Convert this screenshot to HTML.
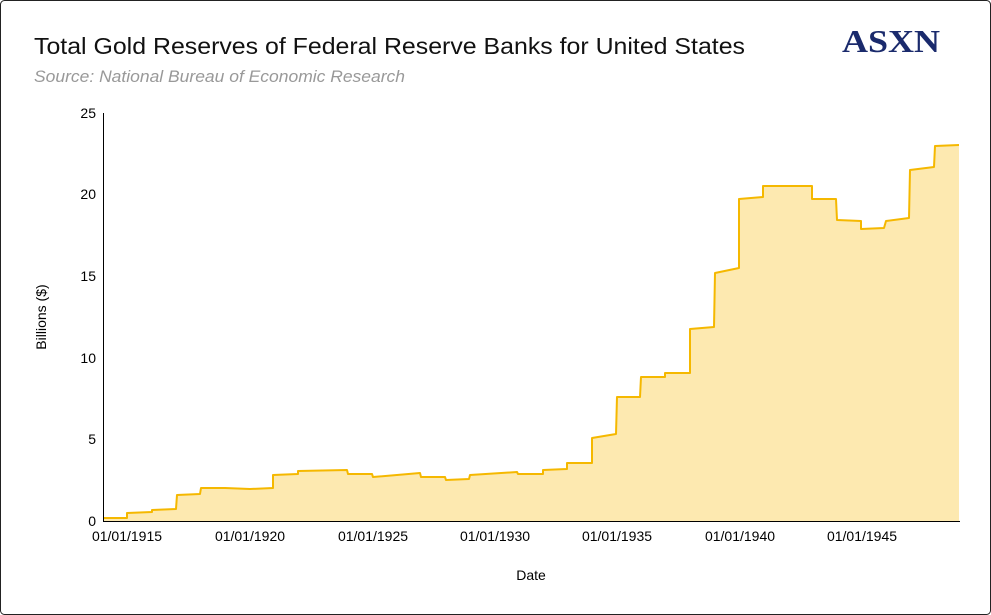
<!DOCTYPE html>
<html><head><meta charset="utf-8"><style>
body{margin:0;background:#fff;}
.wrap{position:relative;width:991px;height:615px;overflow:hidden;font-family:"Liberation Sans",sans-serif;}
</style></head><body><div class="wrap">
<svg width="991" height="615" viewBox="0 0 991 615" xmlns="http://www.w3.org/2000/svg" font-family="Liberation Sans, sans-serif">
<rect x="0.5" y="0.5" width="990" height="614" rx="4" fill="#fff" stroke="#222" stroke-width="1"/>
<text x="34" y="54" font-size="23" fill="#111" textLength="711" lengthAdjust="spacingAndGlyphs">Total Gold Reserves of Federal Reserve Banks for United States</text>
<text x="34" y="82" font-size="16.5" font-style="italic" fill="#999" textLength="371" lengthAdjust="spacingAndGlyphs">Source: National Bureau of Economic Research</text>
<text x="842" y="52" font-size="32" font-weight="bold" font-family="Liberation Serif, serif" fill="#1a2a6c" textLength="98" lengthAdjust="spacingAndGlyphs">ASXN</text>
<polygon fill="#fde9b0" points="103,521 103,518 127,518 127,513 152,512 152,510 176,509 177,495 200,494 201,488 225,488 250,489 273,488 273,475 298,474 298,471 347,470 348,474 372,474 373,477 420,473 421,477 445,477 446,480 469,479 470,475 517,472 518,474 543,474 543,470 567,469 567,463 592,463 592,438 616,434 617,397 640,397 641,377 665,377 665,373 690,373 690,329 714,327 715,273 739,268 739,199 763,197 763,186 788,186 812,186 812,199 836,199 837,220 861,221 861,229 884,228 886,221 909,218 910,170 934,167 935,146 959,145 959,521"/>
<polyline fill="none" stroke="#f5b800" stroke-width="2" stroke-linejoin="round" points="103,518 127,518 127,513 152,512 152,510 176,509 177,495 200,494 201,488 225,488 250,489 273,488 273,475 298,474 298,471 347,470 348,474 372,474 373,477 420,473 421,477 445,477 446,480 469,479 470,475 517,472 518,474 543,474 543,470 567,469 567,463 592,463 592,438 616,434 617,397 640,397 641,377 665,377 665,373 690,373 690,329 714,327 715,273 739,268 739,199 763,197 763,186 788,186 812,186 812,199 836,199 837,220 861,221 861,229 884,228 886,221 909,218 910,170 934,167 935,146 959,145"/>
<line x1="103.5" y1="113" x2="103.5" y2="521" stroke="#000"/>
<line x1="103" y1="521.5" x2="960" y2="521.5" stroke="#000"/>
<g font-size="14" fill="#000" text-anchor="end">
<text x="96" y="526">0</text><text x="96" y="444">5</text><text x="96" y="363">10</text><text x="96" y="281">15</text><text x="96" y="199">20</text><text x="96" y="118">25</text>
</g>
<g font-size="14" fill="#000" text-anchor="middle">
<text x="127" y="541">01/01/1915</text><text x="250" y="541">01/01/1920</text><text x="373" y="541">01/01/1925</text><text x="495" y="541">01/01/1930</text><text x="617" y="541">01/01/1935</text><text x="740" y="541">01/01/1940</text><text x="862" y="541">01/01/1945</text>
<text x="531" y="580">Date</text>
</g>
<text x="46" y="317" font-size="14" text-anchor="middle" transform="rotate(-90 46 317)">Billions ($)</text>
</svg>
</div></body></html>
